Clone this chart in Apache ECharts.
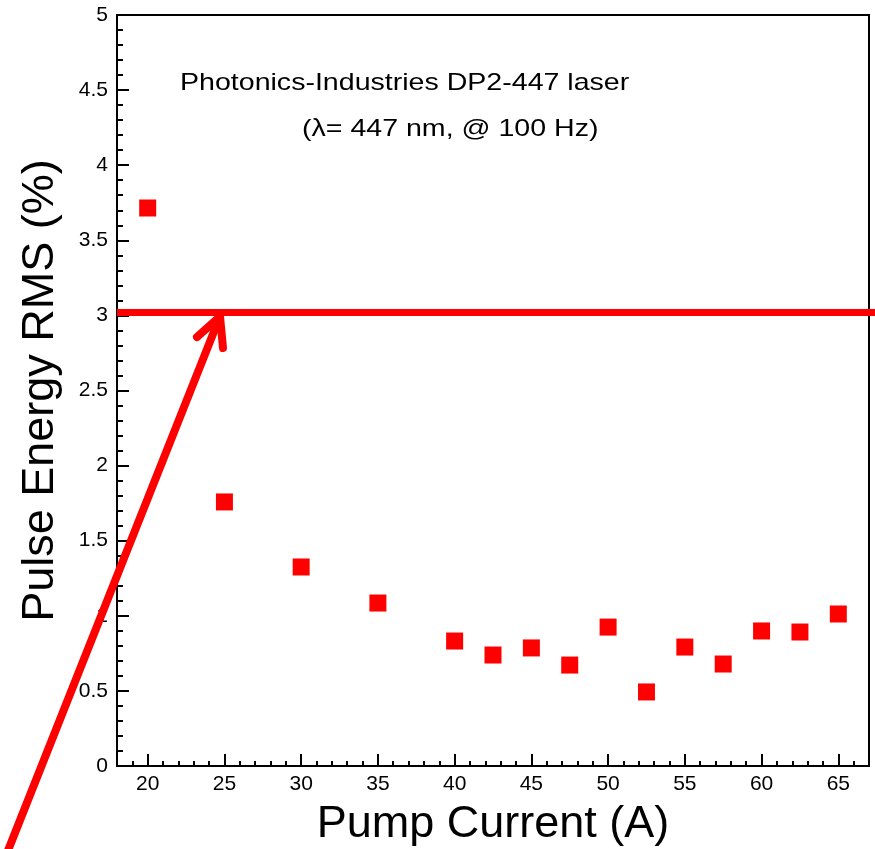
<!DOCTYPE html>
<html>
<head>
<meta charset="utf-8">
<script src="https://cdn.jsdelivr.net/npm/echarts@6/dist/echarts.min.js"></script>
<style>
  html, body { margin: 0; padding: 0; background: #fff; }
  #main { width: 875px; height: 849px; }
</style>
</head>
<body>
<div id="main"></div>
<script>
// pump current (A)
const current = [20, 25, 30, 35, 40, 42.5, 45, 47.5, 50, 52.5, 55, 57.5, 60, 62.5, 65];
// pulse energy RMS (%)
const rms = [3.715, 1.758, 1.325, 1.085, 0.832, 0.739, 0.786, 0.672, 0.925, 0.493, 0.792, 0.679, 0.899, 0.892, 1.012];
// x tick labels
const xLabels = [20, 25, 30, 35, 40, 45, 50, 55, 60, 65];
// spec level line
const specLevel = 3.02;

const font = 'Liberation Sans, Arial, Helvetica, sans-serif';
const chart = echarts.init(document.getElementById('main'));

const option = {
    animation: false,
    backgroundColor: '#fff',
    grid: {
        left: 117, right: 6, top: 15, bottom: 83,
        outerBoundsMode: 'none',
        show: true, borderColor: '#000', borderWidth: 2
    },
    xAxis: [
        {
            type: 'value', min: 18, max: 67, interval: 1,
            splitLine: { show: false },
            axisLine: { lineStyle: { color: '#000', width: 2 } },
            axisTick: { inside: true, length: 5, lineStyle: { color: '#000', width: 2 } },
            axisLabel: {
                color: '#000', fontFamily: font, fontSize: 21, margin: 8,
                formatter: v => (xLabels.indexOf(v) >= 0 ? String(v) : '')
            },
            name: 'Pump Current (A)',
            nameLocation: 'middle',
            nameGap: 36,
            nameTextStyle: { color: '#000', fontFamily: font, fontSize: 45 }
        },
        {
            type: 'value', min: 18, max: 67, position: 'bottom',
            splitLine: { show: false },
            axisLine: { show: false },
            axisTick: { inside: true, length: 12, customValues: xLabels, lineStyle: { color: '#000', width: 2 } },
            axisLabel: { show: false }
        }
    ],
    yAxis: {
        type: 'value', min: 0, max: 5, interval: 0.5,
        splitLine: { show: false },
        axisLine: { lineStyle: { color: '#000', width: 2 } },
        axisTick: { inside: true, length: 12, lineStyle: { color: '#000', width: 2 } },
        minorTick: { show: true, splitNumber: 5, length: 6, lineStyle: { color: '#000', width: 2 } },
        axisLabel: { color: '#000', fontFamily: font, fontSize: 21, margin: 9 },
        name: 'Pulse Energy RMS (%)',
        nameLocation: 'middle',
        nameGap: 54,
        nameTextStyle: { color: '#000', fontFamily: font, fontSize: 45 }
    },
    series: [{
        type: 'scatter',
        symbol: 'rect',
        symbolSize: 17,
        itemStyle: { color: '#ff0000', opacity: 1 },
        data: current.map((c, i) => [c, rms[i]])
    }]
};
chart.setOption(option);

// annotations: level line running past the frame, hand-drawn arrow, caption
const p = chart.convertToPixel({ gridIndex: 0 }, [18, specLevel]);
const tip = [220, p[1] + 4];
const red = { stroke: '#ff0000', lineWidth: 8, lineCap: 'round' };
chart.setOption({
    graphic: [
        { type: 'line', z: 100, shape: { x1: p[0], y1: p[1], x2: 875, y2: p[1] }, style: { stroke: '#ff0000', lineWidth: 7 } },
        { type: 'line', z: 101, shape: { x1: 7, y1: 853, x2: tip[0], y2: tip[1] }, style: red },
        { type: 'polyline', z: 101, shape: { points: [[197, 337], tip, [223, 348]] }, style: Object.assign({ fill: null, lineJoin: 'round' }, red) },
        { type: 'text', x: 180, y: 71, scaleX: 1.19, style: { text: 'Photonics-Industries DP2-447 laser', font: '24px ' + font, fill: '#000', verticalAlign: 'top' } },
        { type: 'text', x: 302, y: 117, scaleX: 1.19, style: { text: '(λ= 447 nm, @ 100 Hz)', font: '24px ' + font, fill: '#000', verticalAlign: 'top' } }
    ]
});
</script>
</body>
</html>
